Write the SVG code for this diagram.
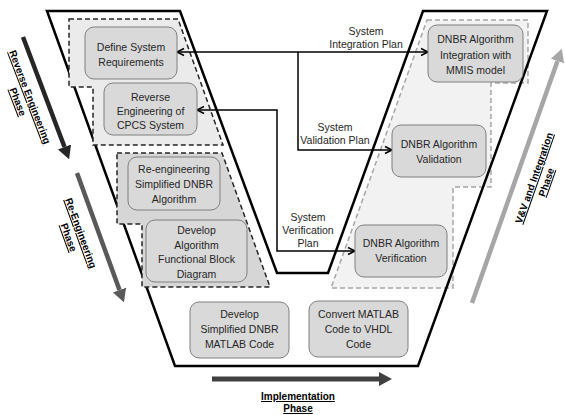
<svg xmlns="http://www.w3.org/2000/svg" width="565" height="415" viewBox="0 0 565 415">
<defs>
<style>
.box{fill:#d9d9d9;stroke:#7f7f7f;stroke-width:1}
.t{font-family:"Liberation Sans",Arial,sans-serif;font-size:10.5px;fill:#262626;text-anchor:middle}
.ph{font-family:"Liberation Sans",Arial,sans-serif;font-size:10px;font-weight:bold;fill:#000;text-anchor:middle;text-decoration:underline}
.conn{fill:none;stroke:#000;stroke-width:1.5}
.reg{stroke-width:1.5;stroke-dasharray:5,3}
</style>
<marker id="oa" markerUnits="userSpaceOnUse" markerWidth="10" markerHeight="10" refX="8" refY="5" orient="auto-start-reverse"><path d="M1,1.5 L8,5 L1,8.5" fill="none" stroke="#000" stroke-width="1.5"/></marker>
<marker id="h1" markerUnits="userSpaceOnUse" markerWidth="14" markerHeight="16" refX="0" refY="8" orient="auto"><path d="M0,1 L13,8 L0,15 z" fill="#262626"/></marker>
<marker id="h2" markerUnits="userSpaceOnUse" markerWidth="14" markerHeight="16" refX="0" refY="8" orient="auto"><path d="M0,1 L13,8 L0,15 z" fill="#595959"/></marker>
<marker id="h3" markerUnits="userSpaceOnUse" markerWidth="14" markerHeight="16" refX="0" refY="8" orient="auto"><path d="M0,1 L13,8 L0,15 z" fill="#404040"/></marker>
<marker id="h4" markerUnits="userSpaceOnUse" markerWidth="14" markerHeight="16" refX="0" refY="8" orient="auto"><path d="M0,1 L13,8 L0,15 z" fill="#a6a6a6"/></marker>
</defs>
<rect width="565" height="415" fill="#fff"/>
<g id="regions-back">
<polygon class="reg" points="427,20 528,20 528,83 491,83 491,187 453,187 453,288 331,288" fill="#f2f2f2" stroke="#a6a6a6"/>
</g>
<g id="v-outline">
<path d="M47,11 L180,11 L277,273 L328,273 L423,11 L547,11 L418,366 L175,366 Z" fill="none" stroke="#000" stroke-width="2.5"/>
</g>
<g id="regions-front">
<polygon class="reg" points="69,19 178,19 223,145 93,145 93,87 69,87" fill="#ebebeb" stroke="#262626"/>
<polygon class="reg" points="117,153 222,153 270,287 142,287 142,224 117,224" fill="#d6d6d6" stroke="#262626"/>
</g>
<g id="connectors">
<path class="conn" d="M177,52 L428,52" marker-start="url(#oa)" marker-end="url(#oa)"/>
<path class="conn" d="M298,52 L298,150 L392,150" marker-end="url(#oa)"/>
<path class="conn" d="M197,110 L277,110 L277,251 L355,251" marker-start="url(#oa)" marker-end="url(#oa)"/>
<text class="t" x="366" y="35">System</text>
<text class="t" x="366" y="48">Integration Plan</text>
<text class="t" x="335" y="130.5">System</text>
<text class="t" x="335" y="144">Validation Plan</text>
<text class="t" x="308" y="221">System</text>
<text class="t" x="308" y="234">Verification</text>
<text class="t" x="308" y="247">Plan</text>
</g>
<g id="n1"><rect class="box" x="85" y="27" width="92" height="52" rx="9"/><text class="t" x="131" y="51">Define System</text><text class="t" x="131" y="66">Requirements</text></g>
<g id="n2"><rect class="box" x="104" y="83" width="93" height="52" rx="9"/><text class="t" x="150.5" y="101">Reverse</text><text class="t" x="150.5" y="115">Engineering of</text><text class="t" x="150.5" y="129">CPCS System</text></g>
<g id="n3"><rect class="box" x="128" y="157" width="92" height="53" rx="9"/><text class="t" x="174" y="173">Re-engineering</text><text class="t" x="174" y="188">Simplified DNBR</text><text class="t" x="174" y="203">Algorithm</text></g>
<g id="n4"><rect class="box" x="146" y="220" width="101" height="62" rx="9"/><text class="t" x="196.5" y="234">Develop</text><text class="t" x="196.5" y="248.5">Algorithm</text><text class="t" x="196.5" y="263">Functional Block</text><text class="t" x="196.5" y="278">Diagram</text></g>
<g id="n5"><rect class="box" x="190" y="302" width="99" height="56" rx="9"/><text class="t" x="239.5" y="318">Develop</text><text class="t" x="239.5" y="333">Simplified DNBR</text><text class="t" x="239.5" y="348">MATLAB Code</text></g>
<g id="n6"><rect class="box" x="309" y="301" width="99" height="56" rx="9"/><text class="t" x="358.5" y="318">Convert MATLAB</text><text class="t" x="358.5" y="333">Code to VHDL</text><text class="t" x="358.5" y="348">Code</text></g>
<g id="n7"><rect class="box" x="428" y="25" width="95" height="57" rx="9"/><text class="t" x="475.5" y="43">DNBR Algorithm</text><text class="t" x="475.5" y="58.5">Integration with</text><text class="t" x="475.5" y="74">MMIS model</text></g>
<g id="n8"><rect class="box" x="392" y="125" width="94" height="52" rx="9"/><text class="t" x="439" y="147.5">DNBR Algorithm</text><text class="t" x="439" y="162.5">Validation</text></g>
<g id="n9"><rect class="box" x="355" y="225" width="92" height="52" rx="9"/><text class="t" x="401" y="247">DNBR Algorithm</text><text class="t" x="401" y="262">Verification</text></g>
<g id="phase-reverse">
<line x1="23" y1="37" x2="64.5" y2="147" stroke="#262626" stroke-width="4.5" marker-end="url(#h1)"/>
<g transform="translate(30,97) rotate(69)"><text class="ph" x="0" y="3.5">Reverse Engineering</text><text class="ph" x="0" y="16.5">Phase</text></g>
</g>
<g id="phase-reeng">
<line x1="77" y1="173" x2="119.5" y2="290" stroke="#595959" stroke-width="4.5" marker-end="url(#h2)"/>
<g transform="translate(81,233) rotate(70)"><text class="ph" x="0" y="3.5">Re-Engineering</text><text class="ph" x="0" y="16.5">Phase</text></g>
</g>
<g id="phase-impl">
<line x1="212" y1="379" x2="379" y2="379" stroke="#404040" stroke-width="5" marker-end="url(#h3)"/>
<text class="ph" x="298" y="400">Implementation</text>
<text class="ph" x="298" y="412">Phase</text>
</g>
<g id="phase-vv">
<line x1="472" y1="303" x2="557.5" y2="61" stroke="#a6a6a6" stroke-width="4.5" marker-end="url(#h4)"/>
<g transform="translate(534,178) rotate(-70.6)"><text class="ph" x="0" y="3.5">V&amp;V and Integration</text><text class="ph" x="0" y="16.5">Phase</text></g>
</g>
</svg>
